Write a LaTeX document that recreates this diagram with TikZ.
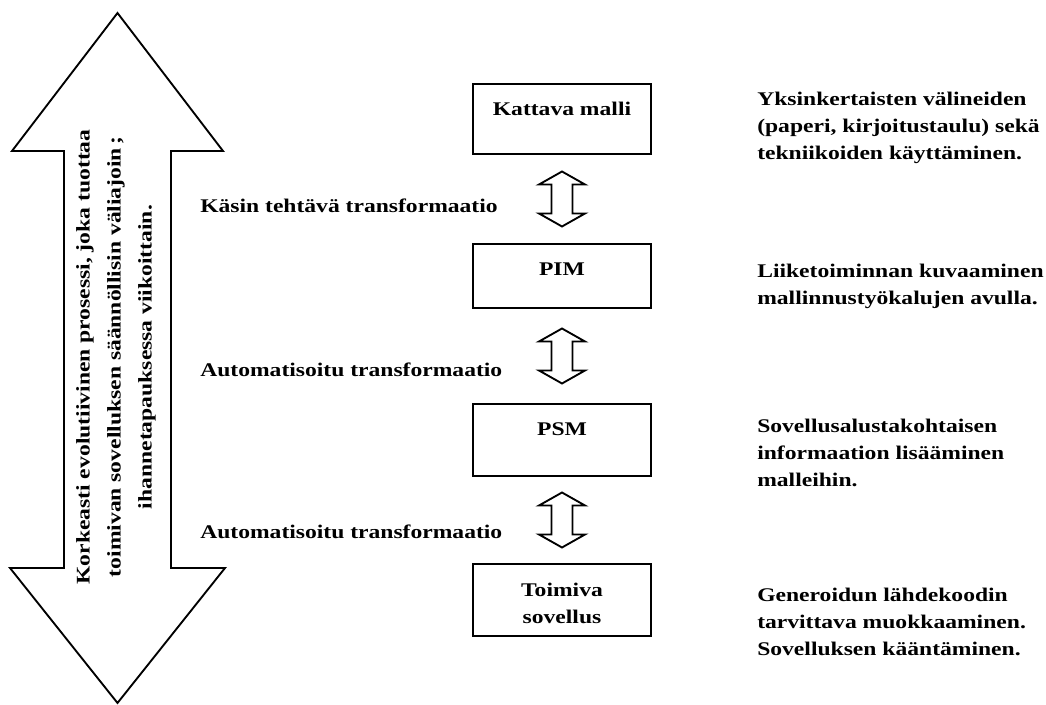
\documentclass[tikz,border=0pt]{standalone}
\usepackage{fontspec}
\setmainfont{Liberation Serif}[FakeStretch=1.22]
\usetikzlibrary{calc}
\begin{document}
\begin{tikzpicture}[x=0.75pt,y=-0.75pt,
  txt/.style={font=\bfseries\fontsize{14.5}{20.25}\selectfont, inner sep=0pt},
  model/.style={txt, draw, line width=1.5pt, minimum width=133.5pt,
    inner xsep=0pt, inner ysep=0pt, align=center, anchor=north, text height=24pt},
  outline/.style={draw, line width=1.4pt, line join=miter},
  pics/updown/.style={code={
    \draw[outline] (0,-27.5) -- (23,-14.5) -- (10.5,-14.5) -- (10.5,14.5)
      -- (23,14.5) -- (0,27.5) -- (-23,14.5) -- (-10.5,14.5)
      -- (-10.5,-14.5) -- (-23,-14.5) -- cycle;
  }}]
\useasboundingbox (0,0) rectangle (1046,705);

% process arrow spanning the whole development cycle
\draw[outline] (117.5,13) -- (223,151) -- (171,151) -- (171,568) -- (225,568)
  -- (117.5,703) -- (10,568) -- (64,568) -- (64,151) -- (12,151) -- cycle;
\node[txt, rotate=90, align=center, font=\bfseries\fontsize{14.5}{23.25}\selectfont]
  (proc) at (116,357)
  {Korkeasti evolutiivinen prosessi, joka tuottaa\\
   toimivan sovelluksen säännöllisin väliajoin\,;\\
   ihannetapauksessa viikoittain.};

% model levels (the base line of a node is its last text line)
\node[model, text depth=28.5pt] (kat) at (562,83) {Kattava malli};
\node[model, text depth=24pt]   (pim) at (562,243) {PIM};
\node[model, text depth=30pt]   (psm) at (562,403) {PSM};
\node[model, text height=44.25pt, text depth=9.75pt] (app) at (562,563) {Toimiva\\sovellus};

% transformations between levels
\path ($(kat.south)!0.5!(pim.north)$) pic {updown};
\path ($(pim.south)!0.5!(psm.north)$) pic {updown};
\path ($(psm.south)!0.5!(app.north)$) pic {updown};

\node[txt, anchor=base west] (t1) at (200,213) {Käsin tehtävä transformaatio};
\node[txt, anchor=base west] (t2) at (200,377) {Automatisoitu transformaatio};
\node[txt, anchor=base west] (t3) at (200,538) {Automatisoitu transformaatio};

% descriptions of each level, placed by their last line
\node[txt, anchor=base west, align=left] (d1) at (757,160)
  {Yksinkertaisten välineiden\\(paperi, kirjoitustaulu) sekä\\tekniikoiden käyttäminen.};
\node[txt, anchor=base west, align=left] (d2) at (757,305)
  {Liiketoiminnan kuvaaminen\\mallinnustyökalujen avulla.};
\node[txt, anchor=base west, align=left] (d3) at (757,487)
  {Sovellusalustakohtaisen\\informaation lisääminen\\malleihin.};
\node[txt, anchor=base west, align=left] (d4) at (757,655)
  {Generoidun lähdekoodin\\tarvittava muokkaaminen.\\Sovelluksen kääntäminen.};
\end{tikzpicture}
\end{document}
